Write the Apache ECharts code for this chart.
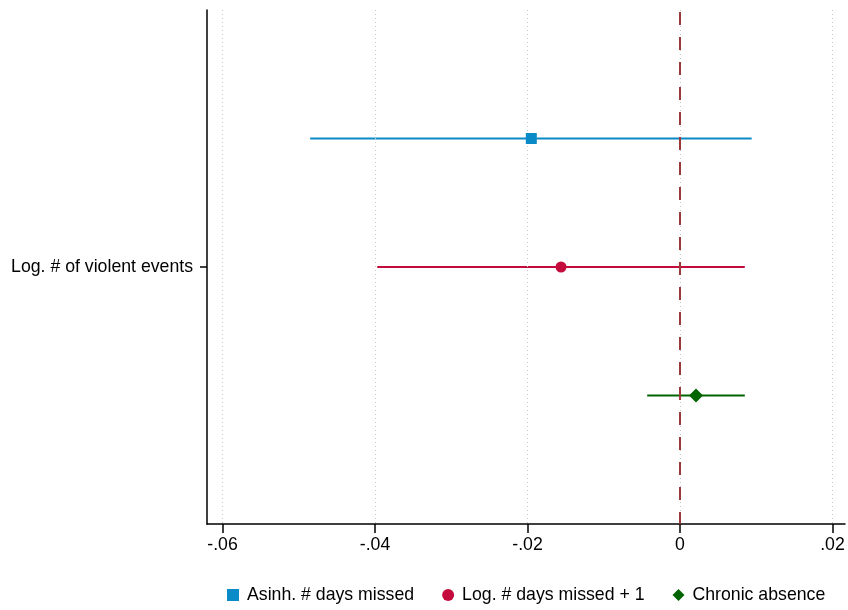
<!DOCTYPE html>
<html><head><meta charset="utf-8">
<script src="https://cdn.jsdelivr.net/npm/echarts@6/dist/echarts.min.js"></script>
<style>html,body{margin:0;padding:0;background:#fff}#c{width:848px;height:610px}</style>
</head><body><div id="c"></div>
<script>
const seriesNames = ['Asinh. # days missed', 'Log. # days missed + 1', 'Chronic absence'];
const estimates = [-0.0195, -0.0156, 0.0021];
const ciLow = [-0.0485, -0.0397, -0.0043];
const ciHigh = [0.0094, 0.0085, 0.0085];
const rowPos = [1, 2, 3];
const xTicks = [-0.06, -0.04, -0.02, 0, 0.02];
const yLabel = 'Log. # of violent events';

const colors = ['#0a8ac6', '#c40c3c', '#006400'];
const symbols = ['rect', 'circle', 'diamond'];
const symSizes = [11, 11, 14];
const FONT = 'Liberation Sans, Arial, sans-serif';
const FS = 17.7;

function fmt(v){
  if (Math.abs(v) < 1e-9) return '0';
  let s = (+v.toFixed(2)).toString();
  return s.replace('0.', '.');
}

const series = [];
seriesNames.forEach((n, i) => {
  series.push({
    name: n + ' CI', type: 'line', silent: true, symbol: 'none',
    lineStyle: {color: colors[i], width: 2.2}, z: 3,
    data: [[ciLow[i], rowPos[i]], [ciHigh[i], rowPos[i]]]
  });
});
seriesNames.forEach((n, i) => {
  series.push({
    name: n, type: 'scatter', symbol: symbols[i], symbolSize: symSizes[i],
    itemStyle: {color: colors[i], opacity: 1}, z: 5,
    data: [[estimates[i], rowPos[i]]]
  });
});
series.push({
  name: 'ref', type: 'line', data: [], silent: true, z: 1,
  markLine: {
    silent: true, symbol: 'none', label: {show: false},
    data: xTicks.map(v => ({xAxis: v, lineStyle: {color: '#c8c8c8', width: 1, type: [1, 3]}}))
  }
});
series.push({
  name: 'zero', type: 'line', data: [], silent: true, z: 2,
  markLine: {
    silent: true, symbol: 'none', label: {show: false},
    data: [{xAxis: 0, lineStyle: {color: '#9b3a3a', width: 2, type: [13, 12], dashOffset: -2}}]
  }
});

const chart = echarts.init(document.getElementById('c'));
chart.setOption({
  animation: false,
  textStyle: {fontFamily: FONT},
  grid: {left: 207, right: 3, top: 10, bottom: 86, containLabel: false},
  xAxis: {
    type: 'value', min: -0.06203, max: 0.02164,
    axisLine: {show: true, onZero: false, lineStyle: {color: '#000', width: 1.5}},
    axisTick: {show: true, length: 9, customValues: xTicks, lineStyle: {color: '#000', width: 1.5}},
    axisLabel: {customValues: xTicks, formatter: fmt, color: '#000', fontSize: FS, margin: 12, fontFamily: FONT},
    splitLine: {show: false}
  },
  yAxis: {
    type: 'value', min: 0, max: 4, inverse: true,
    axisLine: {show: true, onZero: false, lineStyle: {color: '#000', width: 1.5}},
    axisTick: {show: true, length: 7, customValues: [2], lineStyle: {color: '#000', width: 1.5}},
    axisLabel: {customValues: [2], formatter: () => yLabel, color: '#000', fontSize: FS, margin: 14, fontFamily: FONT},
    splitLine: {show: false}
  },
  legend: {
    data: seriesNames.map((n, i) => ({name: n, icon: symbols[i]})),
    bottom: 1, left: 222, itemWidth: 12, itemHeight: 12, itemGap: 28,
    textStyle: {fontSize: FS, color: '#000', fontFamily: FONT, padding: [0, 0, 0, 3]},
    selectedMode: false
  },
  series: series
});
</script></body></html>
